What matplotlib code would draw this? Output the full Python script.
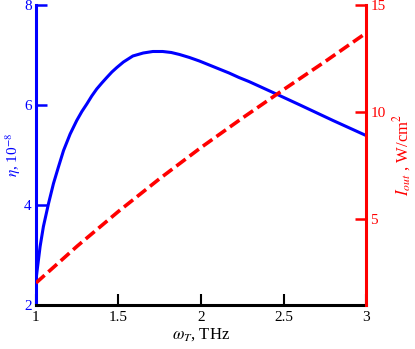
import matplotlib
matplotlib.use('Agg')
import matplotlib.pyplot as plt

# eta (left axis, units 1e-8) vs omega_T
w_eta = [1.0, 1.005, 1.025, 1.045, 1.076, 1.106, 1.136, 1.167, 1.207, 1.247,
         1.278, 1.308, 1.338, 1.368, 1.399, 1.429, 1.46, 1.49, 1.53, 1.587,
         1.65, 1.708, 1.768, 1.82, 1.87, 1.93, 1.99, 2.05, 2.11, 2.17,
         2.23, 2.29, 2.35, 2.456, 2.6, 2.8, 3.0]
eta = [2.5, 2.64, 3.17, 3.57, 4.03, 4.43, 4.76, 5.09, 5.42, 5.69,
       5.87, 6.02, 6.18, 6.32, 6.44, 6.55, 6.66, 6.75, 6.86, 6.98,
       7.04, 7.07, 7.07, 7.05, 7.01, 6.95, 6.88, 6.80, 6.72, 6.64,
       6.55, 6.47, 6.38, 6.22, 6.0, 5.69, 5.39]

# I_out (right axis, W/cm^2) vs omega_T
w_I = [1.0, 1.25, 1.5, 1.75, 2.0, 2.25, 2.5, 2.75, 3.0]
I_out = [2.03, 3.75, 5.37, 6.9, 8.35, 9.72, 11.05, 12.35, 13.69]

plt.rcParams['font.family'] = ['Liberation Serif', 'DejaVu Serif']
plt.rcParams['mathtext.fontset'] = 'stix'

fig = plt.figure(figsize=(4.15, 3.49), dpi=100)
ax = fig.add_axes([0.0867, 0.126, 0.7953, 0.8597])
ax2 = ax.twinx()

ax.plot(w_eta, eta, color='#0000ff', lw=2.2, zorder=3)
ax2.plot(w_I, I_out, color='#ff0000', lw=2.6, ls=(0, (3.2, 1.4)))

ax.set_xlim(1, 3)
ax.set_ylim(2, 8)
ax2.set_ylim(1, 15)
ax.set_xticks([1, 1.5, 2, 2.5, 3])
ax.set_xticklabels(['1', '1.5', '2', '2.5', '3'])
ax.set_yticks([2, 4, 6, 8])
ax2.set_yticks([5, 10, 15])

for a in (ax, ax2):
    a.spines['top'].set_visible(False)
    for s in a.spines.values():
        s.set_linewidth(2.2)
ax.spines['left'].set_color('#0000ff')
ax.spines['right'].set_visible(False)
ax.spines['bottom'].set_color('black')
ax2.spines['right'].set_color('#ff0000')
ax2.spines['left'].set_visible(False)
ax2.spines['bottom'].set_visible(False)

ax.tick_params(axis='x', direction='in', length=8, width=1.5, labelsize=11, pad=4)
ax.tick_params(axis='y', direction='in', length=8, width=1.8, color='#0000ff',
               labelcolor='#0000ff', labelsize=11, pad=3)
ax2.tick_params(axis='y', direction='in', length=8, width=1.8, color='#ff0000',
                labelcolor='#ff0000', labelsize=11, pad=3)

ax.set_xlabel(r'$\omega_T$, THz', fontsize=12, labelpad=2)
ax.set_ylabel(r'$\eta$, 10$^{-8}$', color='#0000ff', fontsize=11)
ax.yaxis.set_label_coords(-0.038, 0.5)
ax2.set_ylabel(r'$I_{out}$ , W/cm$^2$', color='#ff0000', fontsize=12, labelpad=4)

fig.savefig('out.png', dpi=100)
